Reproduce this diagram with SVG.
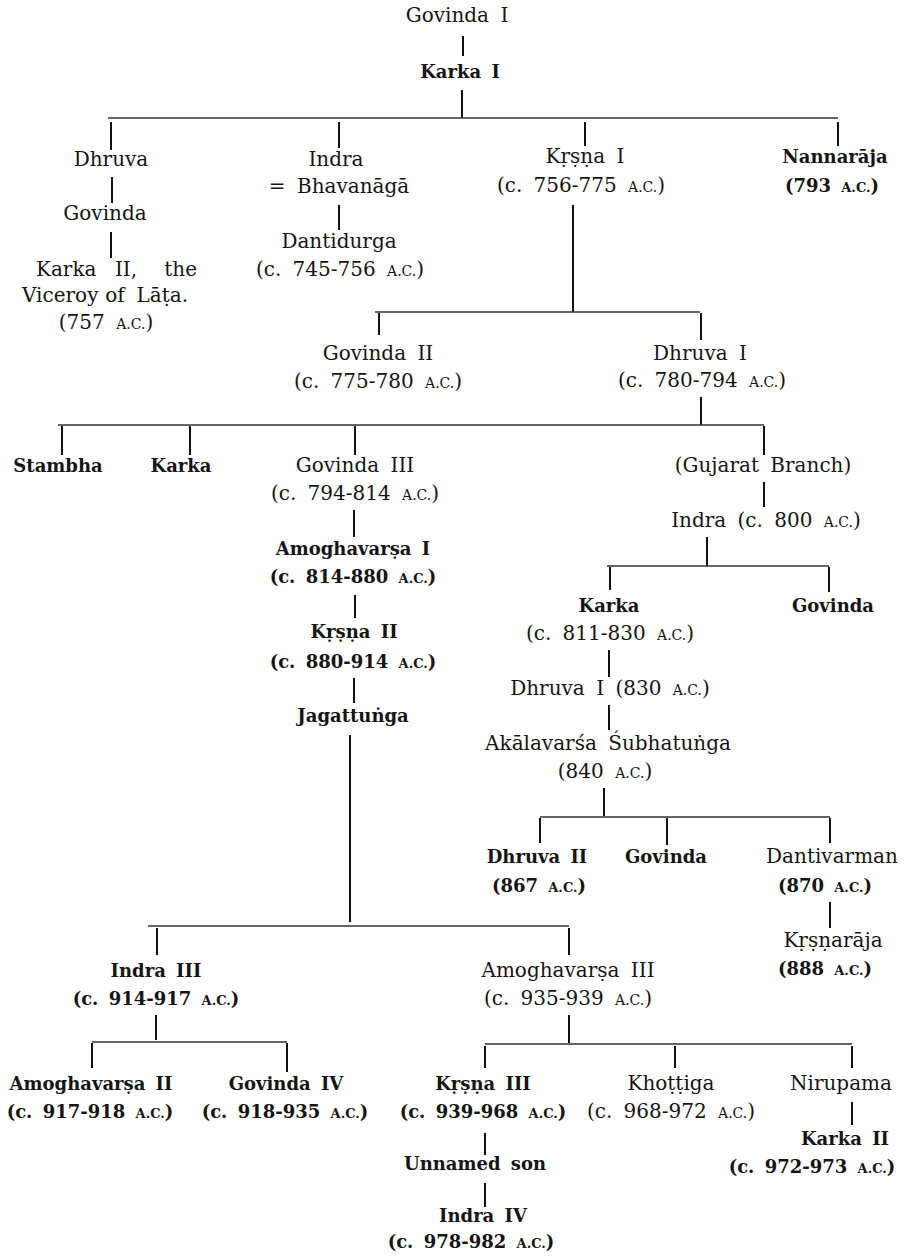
<svg xmlns="http://www.w3.org/2000/svg" width="904" height="1260" viewBox="0 0 904 1260">
<style>
text{font-family:"DejaVu Serif","Liberation Serif",serif;font-size:20px;fill:#141414;text-anchor:middle;word-spacing:5px}
.b{font-weight:bold;font-size:18px;word-spacing:4px}
.sc{font-size:14px}
.b .sc{font-size:13px}
.s{text-anchor:start}
.e{text-anchor:end}
.v{stroke:#111;stroke-width:2;fill:none}
.h{stroke:#333;stroke-width:1.3;fill:none}
</style>
<rect width="904" height="1260" fill="#fff"/>
<g id="connectors">
<line class="v" x1="463" y1="36" x2="463" y2="56"/>
<line class="v" x1="462" y1="90" x2="462" y2="118"/>
<line class="h" x1="108" y1="118" x2="838" y2="118"/>
<line class="v" x1="111" y1="122" x2="111" y2="150"/>
<line class="v" x1="339" y1="122" x2="339" y2="148"/>
<line class="v" x1="585" y1="122" x2="585" y2="146"/>
<line class="v" x1="838" y1="122" x2="838" y2="146"/>
<line class="v" x1="112" y1="177" x2="112" y2="203"/>
<line class="v" x1="111" y1="232" x2="111" y2="258"/>
<line class="v" x1="339" y1="205" x2="339" y2="230"/>
<line class="v" x1="573" y1="205" x2="573" y2="312"/>
<line class="h" x1="375" y1="312" x2="700" y2="312"/>
<line class="v" x1="379" y1="313" x2="379" y2="335"/>
<line class="v" x1="701" y1="313" x2="701" y2="340"/>
<line class="v" x1="701" y1="397" x2="701" y2="425"/>
<line class="h" x1="58" y1="425" x2="764" y2="425"/>
<line class="v" x1="62" y1="426" x2="62" y2="455"/>
<line class="v" x1="190" y1="426" x2="190" y2="455"/>
<line class="v" x1="355" y1="426" x2="355" y2="455"/>
<line class="v" x1="764" y1="426" x2="764" y2="455"/>
<line class="v" x1="354" y1="510" x2="354" y2="537"/>
<line class="v" x1="355" y1="595" x2="355" y2="618"/>
<line class="v" x1="354" y1="678" x2="354" y2="703"/>
<line class="v" x1="350" y1="735" x2="350" y2="922"/>
<line class="h" x1="148" y1="926" x2="569" y2="926"/>
<line class="v" x1="157" y1="928" x2="157" y2="955"/>
<line class="v" x1="569" y1="928" x2="569" y2="955"/>
<line class="v" x1="156" y1="1015" x2="156" y2="1040"/>
<line class="h" x1="92" y1="1042" x2="287" y2="1042"/>
<line class="v" x1="92" y1="1043" x2="92" y2="1068"/>
<line class="v" x1="287" y1="1043" x2="287" y2="1072"/>
<line class="v" x1="569" y1="1015" x2="569" y2="1043"/>
<line class="h" x1="485" y1="1044" x2="852" y2="1044"/>
<line class="v" x1="485" y1="1046" x2="485" y2="1068"/>
<line class="v" x1="675" y1="1046" x2="675" y2="1068"/>
<line class="v" x1="852" y1="1046" x2="852" y2="1068"/>
<line class="v" x1="852" y1="1102" x2="852" y2="1125"/>
<line class="v" x1="485" y1="1133" x2="485" y2="1155"/>
<line class="v" x1="485" y1="1183" x2="485" y2="1207"/>
<line class="v" x1="764" y1="482" x2="764" y2="507"/>
<line class="v" x1="707" y1="537" x2="707" y2="566"/>
<line class="h" x1="607" y1="566" x2="829" y2="566"/>
<line class="v" x1="610" y1="567" x2="610" y2="590"/>
<line class="v" x1="829" y1="567" x2="829" y2="592"/>
<line class="v" x1="609" y1="650" x2="609" y2="677"/>
<line class="v" x1="609" y1="705" x2="609" y2="730"/>
<line class="v" x1="604" y1="788" x2="604" y2="816"/>
<line class="h" x1="540" y1="817" x2="830" y2="817"/>
<line class="v" x1="540" y1="818" x2="540" y2="843"/>
<line class="v" x1="667" y1="818" x2="667" y2="845"/>
<line class="v" x1="830" y1="818" x2="830" y2="843"/>
<line class="v" x1="830" y1="902" x2="830" y2="928"/>
</g>
<g id="n-govinda1"><text x="457" y="22">Govinda I</text></g>
<g id="n-karka1"><text class="b" x="460" y="78">Karka I</text></g>
<g id="n-dhruva"><text x="111" y="166">Dhruva</text></g>
<g id="n-govinda"><text x="105" y="220">Govinda</text></g>
<g id="n-karka2-lata">
<text class="s" x="36" y="276">Karka</text><text x="126" y="276">II,</text><text class="e" x="197" y="276">the</text>
<text class="s" x="22" y="302">Viceroy</text><text x="115" y="302">of</text><text class="e" x="188" y="302">Lāṭa.</text>
<text x="106" y="329">(757 <tspan class="sc">A.C.</tspan>)</text>
</g>
<g id="n-indra"><text x="336" y="166">Indra</text><text x="339" y="193">= Bhavanāgā</text></g>
<g id="n-dantidurga"><text x="339" y="248">Dantidurga</text><text x="340" y="276">(c. 745-756 <tspan class="sc">A.C.</tspan>)</text></g>
<g id="n-krsna1"><text x="585" y="163">Kṛṣṇa I</text><text x="581" y="192">(c. 756-775 <tspan class="sc">A.C.</tspan>)</text></g>
<g id="n-nannaraja"><text class="b" x="835" y="163">Nannarāja</text><text class="b" x="832" y="192">(793 <tspan class="sc">A.C.</tspan>)</text></g>
<g id="n-govinda2"><text x="378" y="360">Govinda II</text><text x="378" y="388">(c. 775-780 <tspan class="sc">A.C.</tspan>)</text></g>
<g id="n-dhruva1"><text x="700" y="360">Dhruva I</text><text x="702" y="387">(c. 780-794 <tspan class="sc">A.C.</tspan>)</text></g>
<g id="n-stambha"><text class="b" x="58" y="472">Stambha</text></g>
<g id="n-karka"><text class="b" x="181" y="472">Karka</text></g>
<g id="n-govinda3"><text x="355" y="472">Govinda III</text><text x="355" y="500">(c. 794-814 <tspan class="sc">A.C.</tspan>)</text></g>
<g id="n-amogha1"><text class="b" x="353" y="555">Amoghavarṣa I</text><text class="b" x="353" y="583">(c. 814-880 <tspan class="sc">A.C.</tspan>)</text></g>
<g id="n-krsna2"><text class="b" x="354" y="638">Kṛṣṇa II</text><text class="b" x="353" y="668">(c. 880-914 <tspan class="sc">A.C.</tspan>)</text></g>
<g id="n-jagattunga"><text class="b" x="353" y="722">Jagattuṅga</text></g>
<g id="n-gujarat"><text x="763" y="472">(Gujarat Branch)</text></g>
<g id="n-indra-guj"><text x="766" y="527">Indra (c. 800 <tspan class="sc">A.C.</tspan>)</text></g>
<g id="n-karka-guj"><text class="b" x="609" y="612">Karka</text><text x="610" y="640">(c. 811-830 <tspan class="sc">A.C.</tspan>)</text></g>
<g id="n-govinda-guj"><text class="b" x="833" y="612">Govinda</text></g>
<g id="n-dhruva1-guj"><text x="610" y="695">Dhruva I (830 <tspan class="sc">A.C.</tspan>)</text></g>
<g id="n-akalavarsa"><text x="608" y="750">Akālavarśa Śubhatuṅga</text><text x="605" y="778">(840 <tspan class="sc">A.C.</tspan>)</text></g>
<g id="n-dhruva2"><text class="b" x="537" y="863">Dhruva II</text><text class="b" x="539" y="892">(867 <tspan class="sc">A.C.</tspan>)</text></g>
<g id="n-govinda-g2"><text class="b" x="666" y="863">Govinda</text></g>
<g id="n-dantivarman"><text x="832" y="863">Dantivarman</text><text class="b" x="825" y="892">(870 <tspan class="sc">A.C.</tspan>)</text></g>
<g id="n-krsnaraja"><text x="833" y="947">Kṛṣṇarāja</text><text class="b" x="825" y="975">(888 <tspan class="sc">A.C.</tspan>)</text></g>
<g id="n-indra3"><text class="b" x="156" y="977">Indra III</text><text class="b" x="156" y="1005">(c. 914-917 <tspan class="sc">A.C.</tspan>)</text></g>
<g id="n-amogha3"><text x="568" y="977">Amoghavarṣa III</text><text x="568" y="1005">(c. 935-939 <tspan class="sc">A.C.</tspan>)</text></g>
<g id="n-amogha2"><text class="b" x="91" y="1090">Amoghavarṣa II</text><text class="b" x="90" y="1118">(c. 917-918 <tspan class="sc">A.C.</tspan>)</text></g>
<g id="n-govinda4"><text class="b" x="286" y="1090">Govinda IV</text><text class="b" x="285" y="1118">(c. 918-935 <tspan class="sc">A.C.</tspan>)</text></g>
<g id="n-krsna3"><text class="b" x="483" y="1090">Kṛṣṇa III</text><text class="b" x="483" y="1118">(c. 939-968 <tspan class="sc">A.C.</tspan>)</text></g>
<g id="n-khottiga"><text x="671" y="1090">Khoṭṭiga</text><text x="671" y="1118">(c. 968-972 <tspan class="sc">A.C.</tspan>)</text></g>
<g id="n-nirupama"><text x="841" y="1090">Nirupama</text></g>
<g id="n-karka2"><text class="b" x="845" y="1145">Karka II</text><text class="b" x="812" y="1173">(c. 972-973 <tspan class="sc">A.C.</tspan>)</text></g>
<g id="n-unnamed"><text class="b" x="475" y="1170">Unnamed son</text></g>
<g id="n-indra4"><text class="b" x="483" y="1222">Indra IV</text><text class="b" x="471" y="1248">(c. 978-982 <tspan class="sc">A.C.</tspan>)</text></g>
</svg>
